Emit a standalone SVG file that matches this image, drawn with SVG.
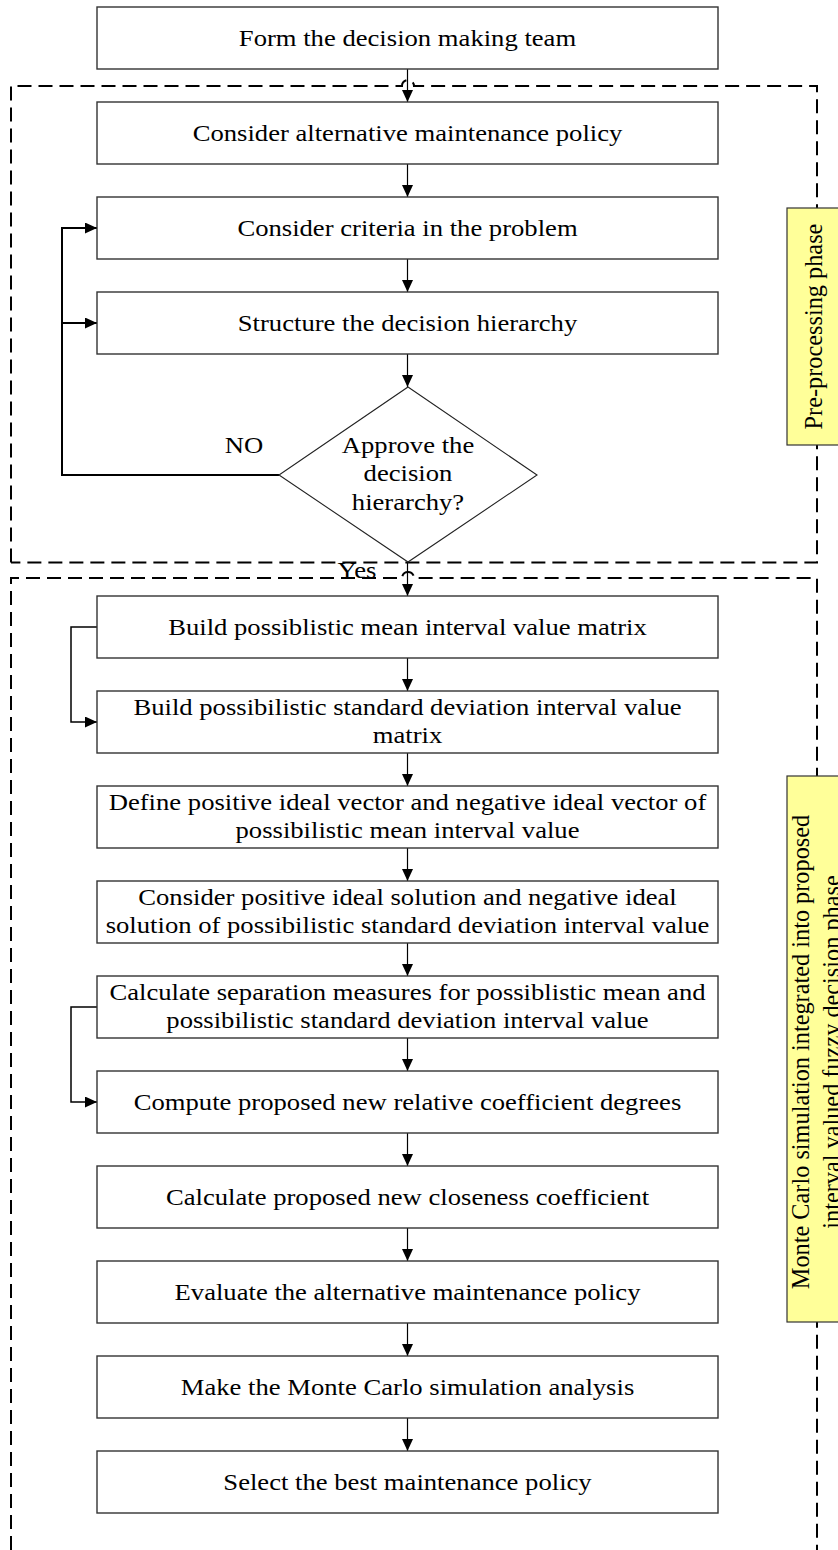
<svg xmlns="http://www.w3.org/2000/svg" width="838" height="1550" viewBox="0 0 838 1550">
<style>
  .box { fill: #ffffff; stroke: #333333; stroke-width: 1.4; }
  .dia { fill: #ffffff; stroke: #222222; stroke-width: 1.1; }
  .t { font-family: "Liberation Serif", "Times New Roman", serif; font-size: 23.8px; fill: #000; text-anchor: middle; }
  .lab { font-family: "Liberation Serif", "Times New Roman", serif; font-size: 24.3px; fill: #000; text-anchor: middle; }
  .dash { fill: none; stroke: #000; stroke-width: 2; stroke-dasharray: 14 7; }
  .phase { fill: #ffff99; stroke: #333333; stroke-width: 1.2; }
  .con { fill: none; stroke: #000; stroke-width: 1.2; marker-end: url(#ah); }
  .loop { fill: none; stroke: #000; stroke-width: 2; }
  .loopa { fill: none; stroke: #000; stroke-width: 2; marker-end: url(#ah); }
  .loop2 { fill: none; stroke: #000; stroke-width: 1.5; marker-end: url(#ah); }
</style>
<defs>
  <marker id="ah" markerUnits="userSpaceOnUse" markerWidth="13" markerHeight="12" refX="12" refY="5.5" orient="auto">
    <path d="M0,0 L12,5.5 L0,11 Z" fill="#000"/>
  </marker>
</defs>
<rect x="0" y="0" width="838" height="1550" fill="#ffffff"/>

<g id="phase-frames">
  <path class="dash" d="M11,562.5 V86 H402 A6,6 0 0 1 414,86 H817 V562.5 H11"/>
  <path class="dash" d="M11,1550 V578 H402 A6,6 0 0 1 414,578 H817 V1550"/>
</g>

<g id="phase-pre">
  <rect class="phase" x="787" y="208" width="60" height="237"/>
  <text class="lab" transform="translate(821.5,326.5) rotate(-90)" x="0" y="0">Pre-processing phase</text>
</g>
<g id="phase-mc">
  <rect class="phase" x="787" y="776" width="60" height="546"/>
  <text class="lab" transform="translate(809,1052) rotate(-90)" x="0" y="0">Monte Carlo simulation integrated into proposed</text>
  <text class="lab" transform="translate(809,1052) rotate(-90)" x="0" y="31">interval valued fuzzy decision phase</text>
</g>

<g id="connectors">
  <path class="con" d="M407.5,69 V102"/>
  <path class="con" d="M407.5,164 V197"/>
  <path class="con" d="M407.5,259 V292"/>
  <path class="con" d="M407.5,354 V387"/>
  <path class="con" d="M407.5,562 V596"/>
  <path class="con" d="M407.5,658 V691"/>
  <path class="con" d="M407.5,753 V786"/>
  <path class="con" d="M407.5,848 V881"/>
  <path class="con" d="M407.5,943 V976"/>
  <path class="con" d="M407.5,1038 V1071"/>
  <path class="con" d="M407.5,1133 V1166"/>
  <path class="con" d="M407.5,1228 V1261"/>
  <path class="con" d="M407.5,1323 V1356"/>
  <path class="con" d="M407.5,1418 V1451"/>
  <path class="loopa" d="M279,475 H62 V228 H97"/>
  <path class="loopa" d="M62,323 H97"/>
  <path class="loop2" d="M97,627 H71 V722 H97"/>
  <path class="loop2" d="M97,1007 H71 V1102 H97"/>
  <text class="t" transform="matrix(1.12 0 0 1 244 0)" x="0" y="453">NO</text>
  <text class="t" transform="matrix(1.12 0 0 1 357 0)" x="0" y="578">Yes</text>
</g>

<g id="n1">
  <rect class="box" x="97" y="7" width="621" height="62"/>
  <text class="t" transform="matrix(1.12 0 0 1 407.5 0)" x="0" y="46.5">Form the decision making team</text>
</g>
<g id="n2">
  <rect class="box" x="97" y="102" width="621" height="62"/>
  <text class="t" transform="matrix(1.12 0 0 1 407.5 0)" x="0" y="141.5">Consider alternative maintenance policy</text>
</g>
<g id="n3">
  <rect class="box" x="97" y="197" width="621" height="62"/>
  <text class="t" transform="matrix(1.12 0 0 1 407.5 0)" x="0" y="236.5">Consider criteria in the problem</text>
</g>
<g id="n4">
  <rect class="box" x="97" y="292" width="621" height="62"/>
  <text class="t" transform="matrix(1.12 0 0 1 407.5 0)" x="0" y="331.5">Structure the decision hierarchy</text>
</g>
<g id="n5">
  <polygon class="dia" points="408,387 537,475 408,562 279,475"/>
  <text class="t" transform="matrix(1.12 0 0 1 408 0)" x="0" y="453">Approve the</text>
  <text class="t" transform="matrix(1.12 0 0 1 408 0)" x="0" y="481.5">decision</text>
  <text class="t" transform="matrix(1.12 0 0 1 408 0)" x="0" y="510">hierarchy?</text>
</g>
<g id="n6">
  <rect class="box" x="97" y="596" width="621" height="62"/>
  <text class="t" transform="matrix(1.12 0 0 1 407.5 0)" x="0" y="635.5">Build possiblistic mean interval value matrix</text>
</g>
<g id="n7">
  <rect class="box" x="97" y="691" width="621" height="62"/>
  <text class="t" transform="matrix(1.12 0 0 1 407.5 0)" x="0" y="715.3">Build possibilistic standard deviation interval value</text>
  <text class="t" transform="matrix(1.12 0 0 1 407.5 0)" x="0" y="743.5">matrix</text>
</g>
<g id="n8">
  <rect class="box" x="97" y="786" width="621" height="62"/>
  <text class="t" transform="matrix(1.12 0 0 1 407.5 0)" x="0" y="810.3">Define positive ideal vector and negative ideal vector of</text>
  <text class="t" transform="matrix(1.12 0 0 1 407.5 0)" x="0" y="838.5">possibilistic mean interval value</text>
</g>
<g id="n9">
  <rect class="box" x="97" y="881" width="621" height="62"/>
  <text class="t" transform="matrix(1.12 0 0 1 407.5 0)" x="0" y="905.3">Consider positive ideal solution and negative ideal</text>
  <text class="t" transform="matrix(1.12 0 0 1 407.5 0)" x="0" y="933.5">solution of possibilistic standard deviation interval value</text>
</g>
<g id="n10">
  <rect class="box" x="97" y="976" width="621" height="62"/>
  <text class="t" transform="matrix(1.12 0 0 1 407.5 0)" x="0" y="1000.3">Calculate separation measures for possiblistic mean and</text>
  <text class="t" transform="matrix(1.12 0 0 1 407.5 0)" x="0" y="1028.5">possibilistic standard deviation interval value</text>
</g>
<g id="n11">
  <rect class="box" x="97" y="1071" width="621" height="62"/>
  <text class="t" transform="matrix(1.12 0 0 1 407.5 0)" x="0" y="1110.5">Compute proposed new relative coefficient degrees</text>
</g>
<g id="n12">
  <rect class="box" x="97" y="1166" width="621" height="62"/>
  <text class="t" transform="matrix(1.12 0 0 1 407.5 0)" x="0" y="1205.5">Calculate proposed new closeness coefficient</text>
</g>
<g id="n13">
  <rect class="box" x="97" y="1261" width="621" height="62"/>
  <text class="t" transform="matrix(1.12 0 0 1 407.5 0)" x="0" y="1300.5">Evaluate the alternative maintenance policy</text>
</g>
<g id="n14">
  <rect class="box" x="97" y="1356" width="621" height="62"/>
  <text class="t" transform="matrix(1.12 0 0 1 407.5 0)" x="0" y="1395.5">Make the Monte Carlo simulation analysis</text>
</g>
<g id="n15">
  <rect class="box" x="97" y="1451" width="621" height="62"/>
  <text class="t" transform="matrix(1.12 0 0 1 407.5 0)" x="0" y="1490.5">Select the best maintenance policy</text>
</g>
</svg>
